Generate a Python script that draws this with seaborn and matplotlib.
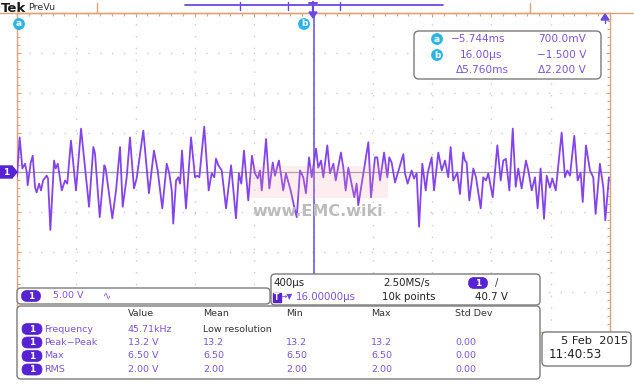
import matplotlib
matplotlib.use("Agg")
import matplotlib.pyplot as plt
import seaborn as sns
import pandas as pd
from matplotlib.patches import FancyBboxPatch, Polygon, Circle, Rectangle

time_us = [-1984, -1966, -1948, -1930, -1918, -1912, -1891, -1878, -1862, -1851,
           -1835, -1822, -1808, -1784, -1775, -1759, -1734, -1723, -1709, -1699,
           -1682, -1660, -1645, -1620, -1586, -1552, -1532, -1498, -1469, -1458,
           -1426, -1395, -1386, -1341, -1316, -1289, -1271, -1244, -1222, -1195,
           -1177, -1132, -1094, -1060, -1035, -1004,
           -974, -957, -940, -930, -911, -896, -884, -871, -844, -810,
           -783, -768, -754, -721, -691, -671, -653, -642, -626, -603,
           -574, -540, -507, -487, -471, -453, -424, -399, -379, -360,
           -345, -333, -304, -282, -259, -244, -217, -188, -170, -138,
           -109, -97, -75, -53, -35, -14,
           4, 33, 48, 67, 82, 109, 127, 150, 166, 201,
           217, 233, 251, 291, 307, 318, 341, 386, 404, 431,
           446, 465, 492, 514, 527, 543, 566, 622, 633, 651,
           678, 694, 712, 728, 750, 773, 786, 813, 829, 858,
           881, 903, 925, 941,
           959, 986, 1004, 1026, 1038, 1049, 1067, 1094, 1112, 1144,
           1161, 1180, 1195, 1225, 1256, 1279, 1296, 1314, 1337, 1360,
           1380, 1397, 1420, 1449, 1465, 1488, 1510, 1528, 1548, 1571,
           1589, 1611, 1627, 1650, 1690, 1712, 1728, 1746, 1775, 1798,
           1818, 1832, 1854, 1881, 1903, 1919, 1948, 1971, 1984, 2009]
volts = [-0.5, 4.4, 0.5, 1.1, 0.0, -1.6, 1.25, 2.1, -1.9, -2.5,
         -1.4, -2.25, -1.0, -0.4, -0.75, -7.2, 1.5, 0.5, 1.1, -0.1,
         -2.25, -1.0, -1.4, 4.0, -2.25, 5.5, 1.9, -4.3, 3.2, 2.4,
         -5.6, 0.9, 0.5, -5.75, -2.25, 3.2, -4.3, -0.6, 4.4, -2.0,
         -0.75, 5.25, -2.6, 2.75, 0.25, -4.5,
         1.1, -0.1, -2.25, -6.4, -1.0, -0.6, -1.4, 2.75, -4.5, 4.4,
         -0.6, -0.4, -0.6, 5.75, -2.25, -0.1, -0.6, 1.75, 0.9, 0.25,
         -4.5, 0.9, -5.75, -0.1, -1.4, 2.75, -3.5, 2.1, -0.1, -0.75,
         0.25, -2.25, 4.2, -2.0, 1.25, -0.4, 1.5, -2.25, -0.1, -2.25,
         -4.75, -5.6, 0.25, -0.6, -2.6, 1.9,
         -0.6, 3.0, 0.6, 1.5, -0.6, 3.4, -0.1, 1.1, -1.0, 2.5,
         0.6, -2.25, 0.6, -3.1, -1.4, -4.1, -1.4, 3.8, -3.1, 1.9,
         1.9, -1.0, 2.5, -0.6, 1.9, 1.25, -1.25, 2.3, -0.1, -1.4,
         0.25, -0.75, -0.1, -6.8, 1.1, -2.25, -0.1, 1.9, -2.25, 2.5,
         0.25, 1.5, -0.6, 3.2,
         -1.0, 0.0, -2.7, 2.5, 1.5, 1.25, -3.5, 0.5, -0.6, -4.5,
         -0.6, -1.0, -0.1, -3.1, 3.4, -1.0, 1.5, 1.7, -2.25, 5.5,
         -1.8, 0.5, -2.0, 1.5, 0.25, -2.25, -0.6, -4.5, 0.5, -5.8,
         -0.4, -1.9, -0.75, -2.25, 5.0, -0.6, 0.25, -0.4, 4.6, -1.0,
         0.0, -3.7, 3.4, 0.25, -0.6, -5.2, 1.1, -1.9, -6.0, -0.6]

cursor_a = ["\u22125.744ms", "700.0mV"]
cursor_b = ["16.00\u00b5s", "\u22121.500 V"]
cursor_delta = ["\u03945.760ms", "\u03942.200 V"]
ch_scale = "5.00 V"
horiz_info = ["400\u00b5s", "2.50MS/s", "\u219216.00000\u00b5s", "10k points", "40.7 V"]
meas_headers = ["Value", "Mean", "Min", "Max", "Std Dev"]
meas_names = ["Frequency", "Peak\u2212Peak", "Max", "RMS"]
meas_values = [["45.71kHz", "Low resolution", "", "", ""],
               ["13.2 V", "13.2", "13.2", "13.2", "0.00"],
               ["6.50 V", "6.50", "6.50", "6.50", "0.00"],
               ["2.00 V", "2.00", "2.00", "2.00", "0.00"]]
date_lines = ["5 Feb  2015", "11:40:53"]

# ---------------- style ----------------
sns.set_theme(style="white")
plt.rcParams['font.family'] = ['DejaVu Sans']

PURP_TXT = '#7d55d6'
PILL = '#5622d4'
TRACE = '#8444ec'
CURS = '#6a48e2'
CYAN = '#2cb4e6'
TAN = '#dca27a'
GRID = '#cdcdcd'
EDGE = '#7c7c7c'

W, H = 634, 386
fig = plt.figure(figsize=(W / 100, H / 100), dpi=100)
fig.patch.set_facecolor('white')

# graticule axes (pixel box x 17..610, y 13..332)
gl, gr, gt, gb = 17, 610, 13, 332
ax = fig.add_axes([gl / W, (H - gb) / H, (gr - gl) / W, (gb - gt) / H])
ax.set_zorder(1)
t0 = 16
ax.set_xlim(t0 - 2000, t0 + 2000)
ax.set_ylim(-20, 20)
ax.set_facecolor('white')

# dotted graticule
for k in range(1, 10):
    ax.axvline(t0 - 2000 + 400 * k, color=GRID, lw=1.0, ls=(0, (1, 7.5)), zorder=0)
for k in range(1, 8):
    ax.axhline(-20 + 5 * k, color=GRID, lw=1.0, ls=(0, (1, 7.5)), zorder=0)
ax.axhline(0, color='#a0a0a0', lw=0.9, zorder=1)

ax.set_xticks([t0 - 2000 + 400 * k for k in range(11)])
ax.set_xticks([t0 - 2000 + 80 * k for k in range(51)], minor=True)
ax.set_yticks([-20 + 5 * k for k in range(9)])
ax.set_yticks([-20 + 1 * k for k in range(41)], minor=True)
ax.tick_params(which='both', direction='in', color=TAN, labelbottom=False, labelleft=False,
               top=True, right=True, bottom=False, left=True, length=3, width=0.8)
ax.tick_params(which='minor', length=2)
for s in ax.spines.values():
    s.set_color(TAN)
    s.set_linewidth(1.0)

df = pd.DataFrame({"t": time_us, "v": volts})
sns.lineplot(data=df, x="t", y="v", ax=ax, color=TRACE, lw=1.3, sort=False, zorder=3)
ax.axvline(t0, color=CURS, lw=1.1, zorder=4)
ax.set_xlabel("")
ax.set_ylabel("")

# ---------------- overlay (pixel coordinates) ----------------
ov = fig.add_axes([0, 0, 1, 1])
ov.set_zorder(2)
ov.set_xlim(0, W)
ov.set_ylim(H, 0)
ov.axis('off')
ov.patch.set_alpha(0)


def rbox(x0, y0, x1, y1, r=4, fc='white', ec=EDGE, lw=1.0, z=5):
    p = FancyBboxPatch((x0, y0), x1 - x0, y1 - y0,
                       boxstyle=f"round,pad=0,rounding_size={r}",
                       fc=fc, ec=ec, lw=lw, zorder=z)
    ov.add_patch(p)


def pill(cx, cy, w=19, h=11):
    rbox(cx - w / 2, cy - h / 2, cx + w / 2, cy + h / 2, r=h / 2, fc=PILL, ec=PILL, lw=0.5, z=7)
    ov.text(cx, cy + 0.3, "1", color='white', fontsize=6.5, fontweight='bold',
            ha='center', va='center', zorder=8)


def circ(cx, cy, letter):
    ov.add_patch(Circle((cx, cy), 5.2, fc=CYAN, ec=CYAN, zorder=7))
    ov.text(cx, cy, letter, color='white', fontsize=6.5, fontweight='bold',
            ha='center', va='center', zorder=8)

# watermark
ov.add_patch(Rectangle((250, 166), 138, 32, fc='#f4a0a8', ec='none', alpha=0.18, zorder=1))
ov.text(318, 211, "www.EMC.wiki", color='#bcbcbc', fontsize=11.5, fontweight='bold',
        ha='center', va='center', zorder=1)

# top strip
ov.plot([0, W], [13, 13], color=TAN, lw=1.0, zorder=3)
for xx in (97, 530):
    ov.plot([xx, xx], [3, 13], color=TAN, lw=1.0, zorder=3)
ov.plot([185, 443], [5, 5], color=CURS, lw=1.3, zorder=3)
for xx in (240, 288, 340):
    ov.plot([xx, xx], [2, 10], color=CURS, lw=1.0, zorder=3)
ov.text(1, 8, "Tek", fontsize=9.5, fontweight='bold', color='#1a1a1a', ha='left', va='center')
ov.text(28, 7.5, "PreVu", fontsize=6.8, color='#333333', ha='left', va='center')
# trigger position marker
ov.plot([313, 313], [2, 12], color=CURS, lw=1.6, zorder=4)
ov.plot([309, 317], [3, 3], color=CURS, lw=1.4, zorder=4)
ov.add_patch(Polygon([[309, 12], [317, 12], [313, 18]], closed=True, fc=CURS, ec=CURS, zorder=4))
# expansion arrow top right
ov.add_patch(Polygon([[601, 20], [609, 20], [605, 14]], closed=True, fc=CURS, ec=CURS, zorder=4))
ov.plot([605, 605], [20, 23], color=CURS, lw=1.0, zorder=4)

# cursor labels
circ(19, 24, "a")
circ(304, 24, "b")

# channel marker
ov.add_patch(Polygon([[0, 166], [12, 166], [17, 172], [12, 178], [0, 178]], closed=True,
                     fc=PILL, ec=PILL, zorder=6))
ov.text(6.5, 172.3, "1", color='white', fontsize=6.5, fontweight='bold', ha='center', va='center', zorder=7)

# cursor readout box
rbox(414, 31, 601, 79, r=5)
circ(437, 39, "a")
circ(437, 55, "b")
ov.text(478, 39, cursor_a[0], color=PURP_TXT, fontsize=7.6, ha='center', va='center', zorder=8)
ov.text(586, 39, cursor_a[1], color=PURP_TXT, fontsize=7.6, ha='right', va='center', zorder=8)
ov.text(481, 55, cursor_b[0], color=PURP_TXT, fontsize=7.6, ha='center', va='center', zorder=8)
ov.text(586, 55, cursor_b[1], color=PURP_TXT, fontsize=7.6, ha='right', va='center', zorder=8)
ov.text(482, 70, cursor_delta[0], color=PURP_TXT, fontsize=7.6, ha='center', va='center', zorder=8)
ov.text(586, 70, cursor_delta[1], color=PURP_TXT, fontsize=7.6, ha='right', va='center', zorder=8)

# channel box
rbox(17, 288, 270, 304, r=4)
pill(31, 296)
ov.text(53, 296, ch_scale, color=PURP_TXT, fontsize=6.8, ha='left', va='center', zorder=8)
ov.text(103, 296, "\u223f", color=PURP_TXT, fontsize=7, ha='left', va='center', zorder=8)

# horizontal / acquisition box
rbox(271, 274, 540, 305, r=4)
ov.text(273, 283, horiz_info[0], color='#222222', fontsize=7.4, ha='left', va='center', zorder=8)
ov.text(383, 283, horiz_info[1], color='#222222', fontsize=7.4, ha='left', va='center', zorder=8)
pill(478, 283)
ov.text(495, 283, "/", color='#333333', fontsize=7, ha='left', va='center', zorder=8)
ov.add_patch(Rectangle((273, 292.5), 8, 9, fc=PILL, ec=PILL, zorder=8))
ov.text(277, 297.3, "T", color='white', fontsize=5.5, fontweight='bold', ha='center', va='center', zorder=9)
ov.text(281, 297, "\u2192\u25bc", color=CURS, fontsize=5.5, ha='left', va='center', zorder=8)
ov.text(296, 297, horiz_info[2][1:], color=PURP_TXT, fontsize=7.4, ha='left', va='center', zorder=8)
ov.text(382, 297, horiz_info[3], color='#222222', fontsize=7.4, ha='left', va='center', zorder=8)
ov.text(508, 297, horiz_info[4], color='#222222', fontsize=7.4, ha='right', va='center', zorder=8)

# measurement box
rbox(17, 306, 540, 379, r=4)
col_x = [128, 203, 286, 371, 455]
for cx, hd in zip(col_x, meas_headers):
    ov.text(cx, 313.5, hd, color='#333333', fontsize=6.8, ha='left', va='center', zorder=8)
row_y = [329, 342.5, 356, 369.5]
for ry, name, vals in zip(row_y, meas_names, meas_values):
    pill(32, ry, w=20, h=11)
    ov.text(44, ry, name, color=PURP_TXT, fontsize=6.8, ha='left', va='center', zorder=8)
    for j, (cx, v) in enumerate(zip(col_x, vals)):
        c = '#333333' if v == "Low resolution" else PURP_TXT
        ov.text(cx, ry, v, color=c, fontsize=6.8, ha='left', va='center', zorder=8)

# date box
rbox(542, 332, 631, 366, r=4)
ov.text(628, 341.5, date_lines[0], color='#222222', fontsize=8.2, ha='right', va='center', zorder=8)
ov.text(549, 355, date_lines[1], color='#222222', fontsize=8.6, ha='left', va='center', zorder=8)

fig.savefig("out.png", dpi=100, facecolor='white')
